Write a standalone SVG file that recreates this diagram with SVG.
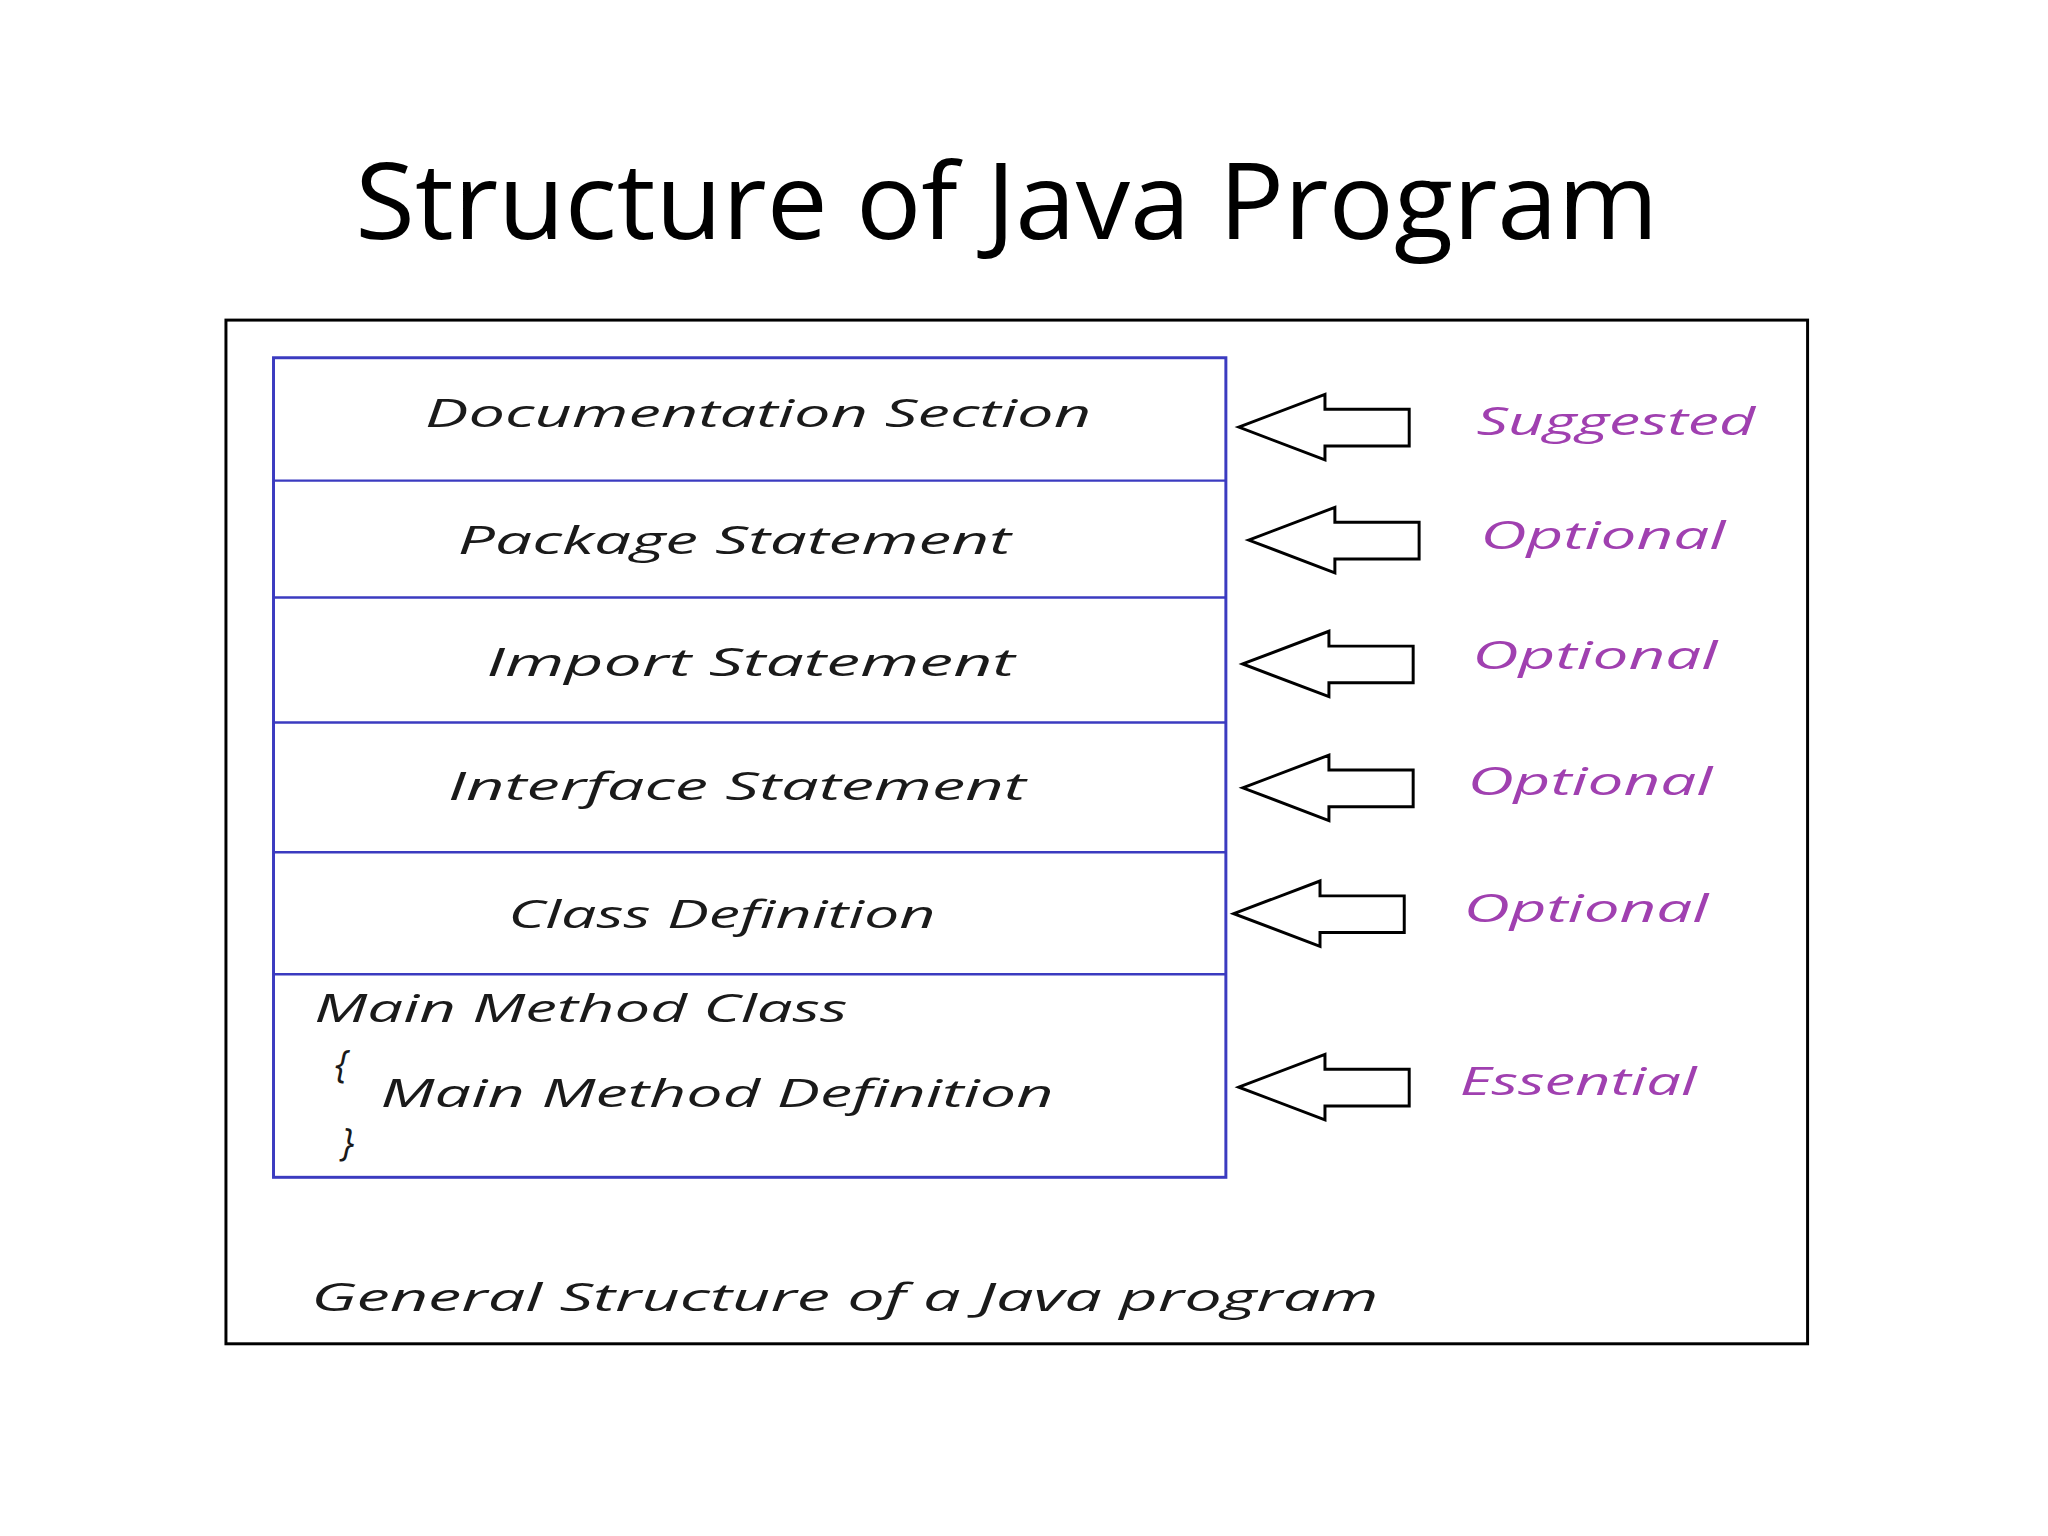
<svg xmlns="http://www.w3.org/2000/svg" width="2048" height="1536" viewBox="0 0 2048 1536">
<defs>
<style>
.t{font-family:"Open Sans","DejaVu Sans",sans-serif;font-size:38px;fill:#1a1a1a;font-style:italic}
.l{font-family:"Open Sans","DejaVu Sans",sans-serif;font-size:38px;fill:#a040b0;font-style:italic}
.a{fill:#fff;stroke:#000;stroke-width:3}
.d{stroke:#3b3bc0;stroke-width:2.5}
</style>
<polygon id="arr" class="a" points="0,0 87,-33 87,-18 172,-18 172,19 87,19 87,33"/>
</defs>
<rect width="2048" height="1536" fill="#fff"/>
<g transform="scale(0.991)">
<text x="1016" y="241" text-anchor="middle" font-family="Open Sans,DejaVu Sans,sans-serif" font-size="108" textLength="1315" lengthAdjust="spacingAndGlyphs">Structure of Java Program</text>
<rect x="228" y="323" width="1596" height="1033" fill="none" stroke="#000" stroke-width="3"/>
<g id="stack">
<rect x="276" y="361" width="961" height="827" fill="none" stroke="#3b3bc0" stroke-width="3"/>
<line class="d" x1="276" y1="485" x2="1237" y2="485"/>
<line class="d" x1="276" y1="603" x2="1237" y2="603"/>
<line class="d" x1="276" y1="729" x2="1237" y2="729"/>
<line class="d" x1="276" y1="860" x2="1237" y2="860"/>
<line class="d" x1="276" y1="983" x2="1237" y2="983"/>
</g>
<g id="n1"><text class="t" x="429" y="431" textLength="672" lengthAdjust="spacingAndGlyphs">Documentation Section</text></g>
<g id="n2"><text class="t" x="462" y="559" textLength="558" lengthAdjust="spacingAndGlyphs">Package Statement</text></g>
<g id="n3"><text class="t" x="491" y="682" textLength="533" lengthAdjust="spacingAndGlyphs">Import Statement</text></g>
<g id="n4"><text class="t" x="452" y="807" textLength="583" lengthAdjust="spacingAndGlyphs">Interface Statement</text></g>
<g id="n5"><text class="t" x="513" y="936" textLength="431" lengthAdjust="spacingAndGlyphs">Class Definition</text></g>
<g id="n6">
<text class="t" x="317" y="1031" textLength="538" lengthAdjust="spacingAndGlyphs">Main Method Class</text>
<text class="t" x="338" y="1088">{</text>
<text class="t" x="384" y="1117" textLength="679" lengthAdjust="spacingAndGlyphs">Main Method Definition</text>
<text class="t" x="344" y="1166">}</text>
</g>
<g id="connectors">
<use href="#arr" x="1250" y="431"/>
<use href="#arr" x="1260" y="545"/>
<use href="#arr" x="1254" y="670"/>
<use href="#arr" x="1254" y="795"/>
<use href="#arr" x="1245" y="922"/>
<use href="#arr" x="1250" y="1097"/>
</g>
<g id="labels">
<text class="l" x="1490" y="439" textLength="281" lengthAdjust="spacingAndGlyphs">Suggested</text>
<text class="l" x="1494" y="554" textLength="247" lengthAdjust="spacingAndGlyphs">Optional</text>
<text class="l" x="1486" y="675" textLength="247" lengthAdjust="spacingAndGlyphs">Optional</text>
<text class="l" x="1481" y="802" textLength="247" lengthAdjust="spacingAndGlyphs">Optional</text>
<text class="l" x="1477" y="930" textLength="247" lengthAdjust="spacingAndGlyphs">Optional</text>
<text class="l" x="1473" y="1105" textLength="239" lengthAdjust="spacingAndGlyphs">Essential</text>
</g>
<text class="t" x="314" y="1323" textLength="1077" lengthAdjust="spacingAndGlyphs">General Structure of a Java program</text>
</g>
</svg>
